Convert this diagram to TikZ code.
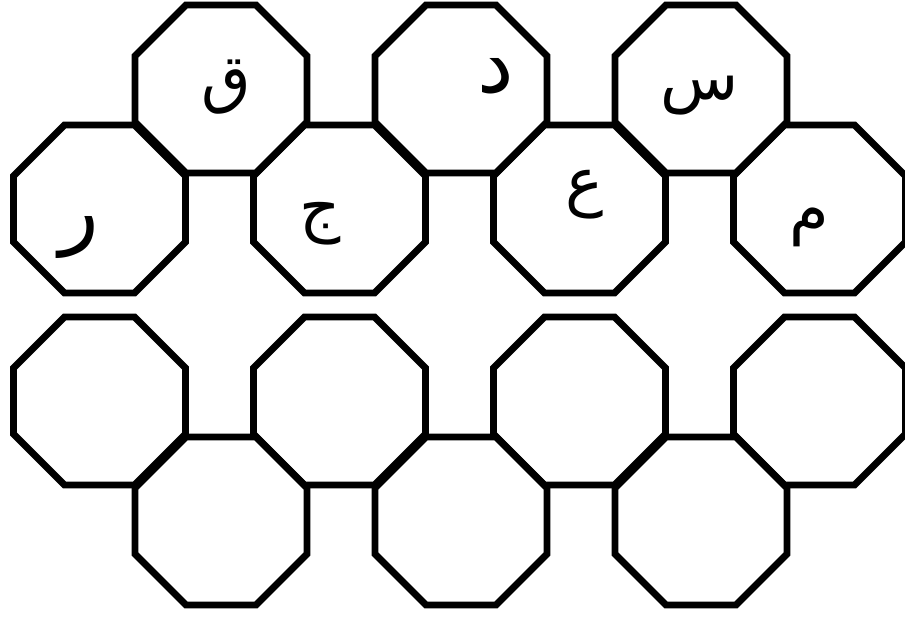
\documentclass[tikz,border=0pt]{standalone}
\usepackage{fontspec}
\newfontfamily\arabicfont[Script=Arabic]{DejaVu Sans}
\TeXXeTstate=1
\tikzset{
  octline/.style={line width=6.8pt, draw=black, line join=miter},
  octo/.pic={\draw[octline] (-86,-33) -- (-86,33) -- (-35,84) -- (35,84) -- (86,33) -- (86,-33) -- (35,-84) -- (-35,-84) -- cycle;},
  letter/.style={font=\arabicfont\fontsize{64}{64}\selectfont, inner sep=0pt, anchor=center},
  bigletter/.style={letter, font=\arabicfont\fontsize{82}{82}\selectfont}
}
\begin{document}
\begin{tikzpicture}[x=1pt, y=-1pt]
\fill[white] (0,0) rectangle (905,616);
\useasboundingbox (0,0) rectangle (905,616);
% top section, upper row
\pic (oA1) at (221,89) {octo};
\pic (oA2) at (461,89) {octo};
\pic (oA3) at (701,89) {octo};
% top section, lower row
\pic (oB1) at (99.5,209) {octo};
\pic (oB2) at (339.5,209) {octo};
\pic (oB3) at (579.5,209) {octo};
\pic (oB4) at (819.5,209) {octo};
% bottom section, upper row
\pic (oC1) at (99.5,401) {octo};
\pic (oC2) at (339.5,401) {octo};
\pic (oC3) at (579.5,401) {octo};
\pic (oC4) at (819.5,401) {octo};
% bottom section, lower row
\pic (oD1) at (221,521) {octo};
\pic (oD2) at (461,521) {octo};
\pic (oD3) at (701,521) {octo};
% letters
\node[letter] (qaf) at (226,87) {\beginR ق\endR};
\node[bigletter] (dal) at (496,76) {\beginR د\endR};
\node[letter] (sin) at (699.5,96) {\beginR س\endR};
\node[bigletter] (ra) at (79,237) {\beginR ر\endR};
\node[letter] (jim) at (320,224) {\beginR ج\endR};
\node[letter] (ayn) at (585,195) {\beginR ع\endR};
\node[letter] (mim) at (809.5,227.5) {\beginR م\endR};
\end{tikzpicture}
\end{document}
